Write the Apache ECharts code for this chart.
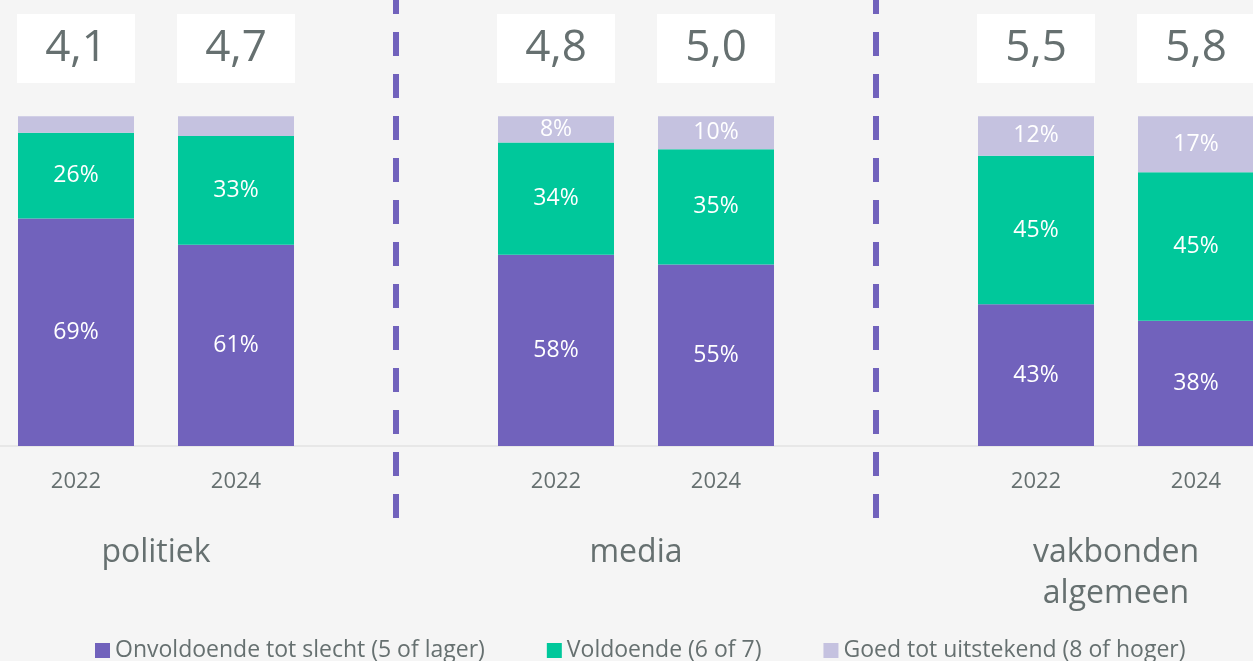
<!DOCTYPE html>
<html>
<head>
<meta charset="utf-8">
<script src="https://cdn.jsdelivr.net/npm/echarts@6/dist/echarts.min.js"></script>
<style>
  html, body { margin: 0; padding: 0; background: #f5f5f5; }
  #chart { width: 1253px; height: 661px; }
</style>
</head>
<body>
<div id="chart"></div>
<script>
// data
const categories = ['2022', '2024', '', '2022', '2024', '', '2022', '2024']
const groups = ['politiek', 'media', 'vakbonden\nalgemeen']
const seriesNames = [
  'Onvoldoende tot slecht (5 of lager)',
  'Voldoende (6 of 7)',
  'Goed tot uitstekend (8 of hoger)',
]
const onvoldoende = [69, 61, null, 58, 55, null, 43, 38]
const voldoende = [26, 33, null, 34, 35, null, 45, 45]
const goed = [5, 6, null, 8, 10, null, 12, 17]
const scores = [4.1, 4.7, null, 4.8, 5.0, null, 5.5, 5.8]

const FONT = '"Open Sans", "Noto Sans", sans-serif'
const GREY = '#667070'
const PURPLE = '#7162bc'
const GREEN = '#00c89b'
const LAVENDER = '#c5c2e0'
const SCORE_ROW = 120.5 // height (in axis units) of the white score boxes

const myChart = echarts.init(document.getElementById('chart'))

const barLabel = {
  show: true,
  position: 'inside',
  color: '#fff',
  fontSize: 23,
  fontFamily: FONT,
  formatter: (p) => (p.value >= 7 ? p.value + '%' : ''),
}

function barSeries(name, data, color) {
  return {
    name: name,
    type: 'bar',
    stack: 'totaal',
    barWidth: 116,
    data: data.map((v) => (v == null ? '-' : v)),
    itemStyle: { color: color },
    label: barLabel,
  }
}

const series = [
  barSeries(seriesNames[0], onvoldoende, PURPLE),
  barSeries(seriesNames[1], voldoende, GREEN),
  barSeries(seriesNames[2], goed, LAVENDER),
  {
    type: 'scatter',
    symbol: 'rect',
    symbolSize: [118, 69],
    itemStyle: { color: '#fff', opacity: 1 },
    data: scores
      .map((s, i) => (s == null ? null : [i, SCORE_ROW, s]))
      .filter((d) => d),
    label: {
      show: true,
      position: 'inside',
      color: GREY,
      fontSize: 44,
      fontFamily: FONT,
      formatter: (p) => p.value[2].toFixed(1).replace('.', ','),
    },
    silent: true,
  },
]

// stippellijnen op de lege categorieën
series[0].markLine = {
  silent: true,
  symbol: 'none',
  label: { show: false },
  lineStyle: { color: PURPLE, width: 6, type: [24, 18], cap: 'butt' },
  data: categories
    .map((c, i) => (c === '' ? { xAxis: i } : null))
    .filter((d) => d),
}

myChart.setOption({
  backgroundColor: '#f5f5f5',
  animation: false,
  textStyle: { fontFamily: FONT },
  grid: { left: -4, right: -23, top: 0, bottom: 143, outerBoundsMode: 'none', containLabel: false },
  legend: {
    data: seriesNames,
    left: 90,
    top: 634,
    icon: 'rect',
    itemWidth: 15,
    itemHeight: 15,
    itemGap: 62,
    textStyle: { color: GREY, fontSize: 23, fontFamily: FONT },
  },
  xAxis: [
    {
      type: 'category',
      data: categories,
      axisLine: { lineStyle: { color: '#e2e2e2', width: 1.5 } },
      axisTick: { show: false },
      axisLabel: { interval: 0, color: GREY, fontSize: 22, margin: -47, fontFamily: FONT },
    },
    {
      type: 'value',
      min: 0,
      max: 8,
      interval: 1,
      position: 'bottom',
      axisLine: { show: false, onZero: false },
      axisTick: { show: false },
      splitLine: { show: false },
      axisLabel: {
        color: GREY,
        fontSize: 32,
        lineHeight: 41,
        margin: 14,
        fontFamily: FONT,
        formatter: (v) => (v % 3 === 1 ? groups[(v - 1) / 3] : ''),
      },
    },
  ],
  yAxis: {
    type: 'value',
    min: -21.8,
    max: 135.2,
    show: false,
    splitLine: { show: false },
  },
  series: series,
})
</script>
</body>
</html>
